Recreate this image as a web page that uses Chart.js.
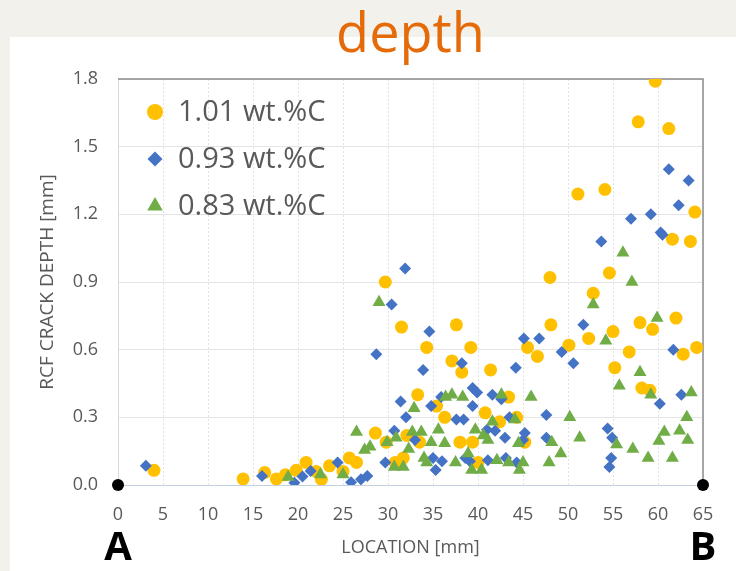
<!DOCTYPE html>
<html>
<head>
<meta charset="utf-8">
<script src="https://cdn.jsdelivr.net/npm/chart.js@4.4.0/dist/chart.umd.min.js"></script>
<style>
  html, body { margin: 0; padding: 0; background: #f3f1ec; }
  #wrap { position: relative; width: 736px; height: 571px; overflow: hidden; }
  #panel { position: absolute; left: 10px; top: 37px; right: 0; bottom: 0; background: #fff; }
  canvas { position: absolute; left: 0; top: 0; }
</style>
</head>
<body>
<div id="wrap">
  <div id="panel"></div>
  <canvas id="depthChart" width="736" height="571"></canvas>
</div>
<script>
// series names
const legendNames = ['1.01 wt.%C', '0.93 wt.%C', '0.83 wt.%C'];
const yTickLabels = ['0.0', '0.3', '0.6', '0.9', '1.2', '1.5', '1.8'];

// 1.01 wt.%C
const c101Loc = [4.0, 13.9, 16.3, 17.6, 18.6, 19.8, 20.9, 22.0, 22.6, 23.5,
  25.0, 25.7, 26.5, 28.6, 29.7, 29.8, 30.8, 31.5, 31.7, 32.1,
  33.3, 33.5, 34.3, 35.4, 36.3, 37.1, 37.6, 38.0, 38.2, 39.2,
  39.4, 40.0, 40.8, 41.4, 42.4, 43.4, 44.3, 45.2, 45.5, 46.6,
  48.0, 48.1, 50.1, 51.1, 52.3, 52.8, 54.1, 54.6, 55.0, 55.2,
  56.8, 57.8, 58.0, 58.2, 59.1, 59.4, 59.7, 61.2, 61.6, 62.0,
  62.8, 63.6, 64.1, 64.3];
const c101Depth = [0.065, 0.027, 0.055, 0.027, 0.045, 0.065, 0.10, 0.06, 0.025, 0.085,
  0.06, 0.12, 0.10, 0.23, 0.90, 0.19, 0.10, 0.70, 0.12, 0.22,
  0.40, 0.19, 0.61, 0.35, 0.30, 0.55, 0.71, 0.19, 0.50, 0.61,
  0.19, 0.10, 0.32, 0.51, 0.28, 0.39, 0.30, 0.19, 0.61, 0.57,
  0.92, 0.71, 0.62, 1.29, 0.65, 0.85, 1.31, 0.94, 0.68, 0.52,
  0.59, 1.61, 0.72, 0.43, 0.42, 0.69, 1.79, 1.58, 1.09, 0.74,
  0.58, 1.08, 1.21, 0.61];

// 0.93 wt.%C
const c093Loc = [3.1, 16.0, 19.6, 20.5, 21.4, 24.4, 25.9, 27.0, 27.7, 28.7,
  29.7, 30.4, 30.7, 31.4, 31.9, 32.0, 33.0, 33.9, 34.6, 34.8,
  35.0, 35.3, 35.9, 36.0, 37.6, 38.2, 38.4, 38.6, 39.1, 39.4,
  39.4, 39.9, 41.0, 41.1, 41.6, 41.9, 42.6, 43.0, 43.1, 43.5,
  44.2, 44.3, 45.0, 45.1, 45.2, 46.8, 47.6, 47.6, 49.3, 50.6,
  51.7, 53.7, 54.4, 54.9, 54.8, 54.6, 57.0, 59.2, 60.2, 60.3,
  60.5, 61.2, 61.7, 62.3, 62.6, 63.4];
const c093Depth = [0.085, 0.04, 0.01, 0.038, 0.062, 0.10, 0.012, 0.025, 0.04, 0.58,
  0.10, 0.80, 0.24, 0.37, 0.96, 0.30, 0.20, 0.51, 0.68, 0.35,
  0.12, 0.066, 0.39, 0.105, 0.29, 0.54, 0.29, 0.12, 0.105, 0.43,
  0.35, 0.41, 0.245, 0.11, 0.40, 0.24, 0.38, 0.21, 0.12, 0.30,
  0.52, 0.10, 0.20, 0.65, 0.23, 0.65, 0.31, 0.21, 0.59, 0.54,
  0.71, 1.08, 0.25, 0.21, 0.12, 0.08, 1.18, 1.20, 0.36, 1.12,
  1.11, 1.40, 0.60, 1.24, 0.40, 1.35];

// 0.83 wt.%C
const c083Loc = [18.9, 22.5, 25.0, 26.5, 27.4, 28.0, 29.0, 29.9, 30.9, 30.7,
  31.7, 32.3, 32.9, 32.7, 33.7, 34.0, 34.3, 34.8, 35.6, 36.3,
  36.4, 37.1, 37.5, 38.3, 38.9, 39.3, 39.7, 40.4, 40.6, 41.1,
  41.6, 42.1, 42.6, 43.4, 44.1, 44.5, 44.6, 45.0, 45.9, 47.9,
  48.2, 49.2, 50.2, 51.3, 52.8, 54.2, 55.4, 55.7, 56.1, 57.1,
  57.2, 58.0, 58.9, 59.2, 59.9, 60.1, 60.7, 61.6, 62.4, 63.2,
  63.3, 63.7];
const c083Depth = [0.035, 0.047, 0.047, 0.235, 0.155, 0.17, 0.81, 0.19, 0.21, 0.08,
  0.08, 0.16, 0.34, 0.235, 0.235, 0.12, 0.10, 0.19, 0.245, 0.185,
  0.39, 0.40, 0.10, 0.39, 0.14, 0.066, 0.245, 0.066, 0.22, 0.20,
  0.28, 0.11, 0.40, 0.10, 0.29, 0.185, 0.066, 0.10, 0.39, 0.10,
  0.19, 0.14, 0.30, 0.21, 0.80, 0.64, 0.18, 0.44, 1.03, 0.90,
  0.16, 0.50, 0.12, 0.40, 0.74, 0.195, 0.235, 0.12, 0.24, 0.30,
  0.20, 0.41];

// end points A and B
const endLoc = [0, 65];
const endDepth = [0, 0];

const toPoints = (xs, ys) => xs.map((x, i) => ({ x: x, y: ys[i] }));

Chart.defaults.font.family = '"Open Sans", sans-serif';
Chart.defaults.color = '#595959';

const legendRadius = [8, 7.5, 9];

// top / right frame of the plot, legend inside, A / B letters
const framePlugin = {
  id: 'frame',
  beforeDatasetsDraw(chart) {
    const { ctx, chartArea } = chart;
    ctx.save();
    ctx.strokeStyle = '#8c8c8c';
    ctx.lineWidth = 1.5;
    ctx.beginPath();
    ctx.moveTo(chartArea.left, chartArea.top);
    ctx.lineTo(chartArea.right, chartArea.top);
    ctx.lineTo(chartArea.right, chartArea.bottom);
    ctx.stroke();
    ctx.restore();
  },
  afterDraw(chart) {
    const { ctx, chartArea } = chart;
    const xs = chart.scales.x;
    ctx.save();
    legendNames.forEach((name, i) => {
      const ds = chart.data.datasets[i];
      const cx = chartArea.left + 37;
      const cy = chartArea.top + 33 + i * 47;
      ctx.fillStyle = ds.backgroundColor;
      Chart.helpers.drawPoint(ctx, { pointStyle: ds.pointStyle, radius: legendRadius[i], borderWidth: 0, rotation: 0 }, cx, cy);
      ctx.fillStyle = '#595959';
      ctx.font = '29px "Open Sans"';
      ctx.textAlign = 'left';
      ctx.textBaseline = 'middle';
      ctx.fillText(name, cx + 23, cy + 1);
    });
    ctx.fillStyle = '#000';
    ctx.font = 'bold 40px "Open Sans"';
    ctx.textAlign = 'center';
    ctx.textBaseline = 'alphabetic';
    ctx.fillText('A', xs.getPixelForValue(endLoc[0]), 560);
    ctx.fillText('B', xs.getPixelForValue(endLoc[1]), 560);
    ctx.restore();
  }
};

const ctx = document.getElementById('depthChart').getContext('2d');

const depthChart = new Chart(ctx, {
  type: 'scatter',
  data: {
    datasets: [
      {
        label: legendNames[0],
        data: toPoints(c101Loc, c101Depth),
        pointStyle: 'circle',
        pointRadius: 6.5,
        backgroundColor: '#FFC000',
        borderWidth: 0,
        order: 3
      },
      {
        label: legendNames[1],
        data: toPoints(c093Loc, c093Depth),
        pointStyle: 'rectRot',
        pointRadius: 6,
        backgroundColor: '#4472C4',
        borderWidth: 0,
        order: 2
      },
      {
        label: legendNames[2],
        data: toPoints(c083Loc, c083Depth),
        pointStyle: 'triangle',
        pointRadius: 7.5,
        backgroundColor: '#70AD47',
        borderWidth: 0,
        order: 1
      },
      {
        label: 'ends',
        data: toPoints(endLoc, endDepth),
        pointStyle: 'circle',
        pointRadius: 6,
        backgroundColor: '#000',
        borderWidth: 0,
        clip: false,
        order: 0
      }
    ]
  },
  options: {
    responsive: false,
    animation: false,
    events: [],
    layout: { padding: { left: 0, right: 33, top: 0, bottom: 0 } },
    plugins: {
      legend: { display: false },
      tooltip: { enabled: false },
      title: {
        display: true,
        text: 'depth',
        color: '#E56B0A',
        fullSize: false,
        font: { size: 54, weight: 'normal', lineHeight: 1 },
        padding: { top: 10, bottom: 15 }
      }
    },
    scales: {
      x: {
        type: 'linear',
        min: 0,
        max: 65,
        ticks: { stepSize: 5, padding: 19, font: { size: 18 }, color: '#595959' },
        grid: { color: '#e4e4e4', drawTicks: false },
        border: { color: '#c3d1df', dash: [2, 2] },
        title: {
          display: true,
          text: 'LOCATION [mm]',
          color: '#595959',
          font: { size: 18 },
          padding: { top: 4, bottom: 12 }
        },
        afterFit(scale) { scale.height = 86; }
      },
      y: {
        min: 0,
        max: 1.8,
        ticks: {
          stepSize: 0.3,
          padding: 20,
          font: { size: 18 },
          color: '#595959',
          callback: (value, index) => yTickLabels[index] !== undefined ? yTickLabels[index] : value.toFixed(1)
        },
        grid: { color: '#e4e4e4', drawTicks: false },
        border: { color: '#d9d9d9' },
        title: {
          display: true,
          text: 'RCF CRACK DEPTH [mm]',
          color: '#595959',
          font: { size: 19 },
          padding: { top: 36, bottom: 0 }
        },
        afterFit(scale) { scale.width = 118; }
      }
    }
  },
  plugins: [framePlugin]
});
</script>
</body>
</html>
